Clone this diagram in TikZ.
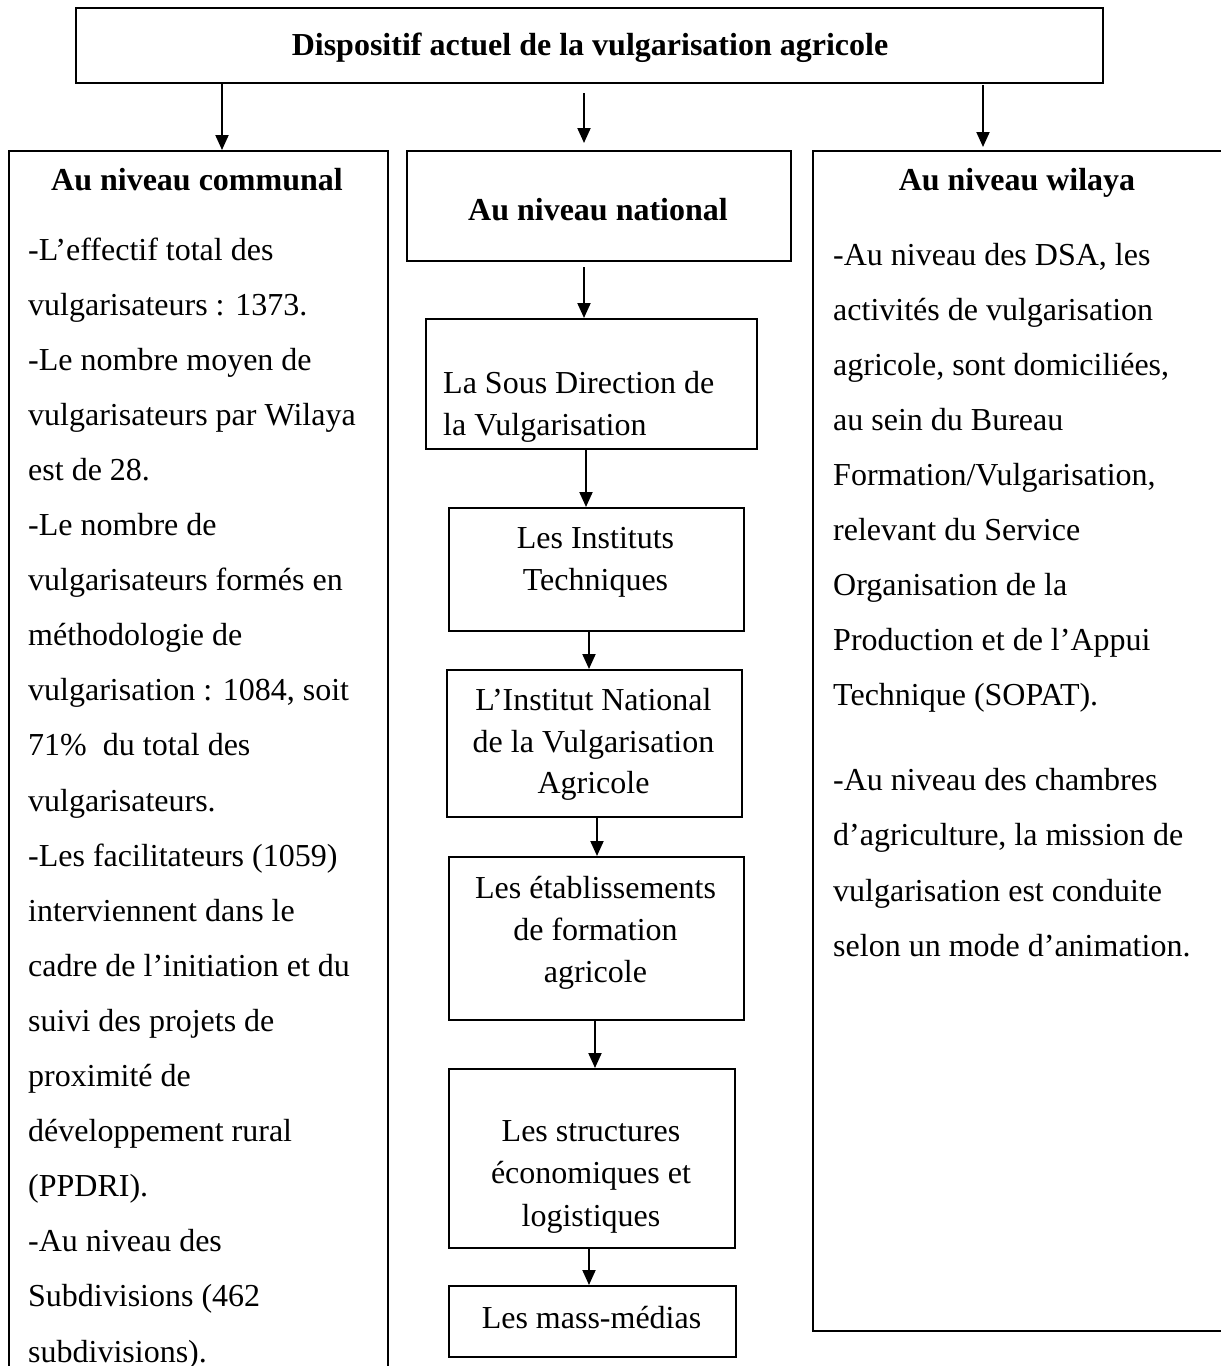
\documentclass[tikz,border=0pt]{standalone}
\usepackage{fontspec}
\setmainfont{Liberation Serif}
\usetikzlibrary{arrows.meta}
\tikzset{
  box/.style={draw, line width=2pt, rectangle, inner sep=0pt, anchor=north west},
  arr/.style={line width=2pt, -{Triangle[length=15pt,width=13pt]}},
  txt/.style={inner sep=0pt, font=\fontsize{32pt}{38pt}\selectfont},
  btxt/.style={inner sep=0pt, font=\fontsize{32pt}{38pt}\selectfont\bfseries},
}
\begin{document}
\begin{tikzpicture}[x=1pt,y=-1pt]
\useasboundingbox (0,0) rectangle (1221,1366);
\clip (0,0) rectangle (1221,1366);

% boxes
\node[box, minimum width=1027pt, minimum height=75pt] (top) at (75,7) {};
\node[box, minimum width=379pt, minimum height=1300pt] (com) at (8,150) {};
\node[box, minimum width=384pt, minimum height=110pt] (nat) at (406,150) {};
\node[box, minimum width=412pt, minimum height=1180pt] (wil) at (812,150) {};
\node[box, minimum width=331pt, minimum height=130pt] (sdv) at (425,318) {};
\node[box, minimum width=295pt, minimum height=123pt] (inst) at (448,507) {};
\node[box, minimum width=295pt, minimum height=147pt] (inva) at (446,669) {};
\node[box, minimum width=295pt, minimum height=163pt] (etab) at (448,856) {};
\node[box, minimum width=286pt, minimum height=179pt] (struc) at (448,1068) {};
\node[box, minimum width=287pt, minimum height=71pt] (mass) at (448,1285) {};

% titles
\node[btxt, anchor=base] (t0) at (590,55) {Dispositif actuel de la vulgarisation agricole};
\node[btxt, anchor=base] (t1) at (197,190) {Au niveau communal};
\node[btxt, anchor=base] (t2) at (598,220) {Au niveau national};
\node[btxt, anchor=base] (t3) at (1017,190) {Au niveau wilaya};

% left column text
\foreach \t [count=\i] in {
  {-L’effectif total des},
  {vulgarisateurs : 1373.},
  {-Le nombre moyen de},
  {vulgarisateurs par Wilaya},
  {est de 28.},
  {-Le nombre de},
  {vulgarisateurs formés en},
  {méthodologie de},
  {vulgarisation : 1084, soit},
  {71\%\ \ du total des},
  {vulgarisateurs.},
  {-Les facilitateurs (1059)},
  {interviennent dans le},
  {cadre de l’initiation et du},
  {suivi des projets de},
  {proximité de},
  {développement rural},
  {(PPDRI).},
  {-Au niveau des},
  {Subdivisions (462},
  {subdivisions).}}
  \node[txt, anchor=base west] (L\i) at (28,{260+55.1*(\i-1)}) {\t};

% right column text
\foreach \t [count=\i] in {
  {-Au niveau des DSA, les},
  {activités de vulgarisation},
  {agricole, sont domiciliées,},
  {au sein du Bureau},
  {Formation/Vulgarisation,},
  {relevant du Service},
  {Organisation de la},
  {Production et de l’Appui},
  {Technique (SOPAT).}}
  \node[txt, anchor=base west] (R\i) at (833,{265+55*(\i-1)}) {\t};
\foreach \t [count=\i] in {
  {-Au niveau des chambres},
  {d’agriculture, la mission de},
  {vulgarisation est conduite},
  {selon un mode d’animation.}}
  \node[txt, anchor=base west] (S\i) at (833,{790+55.5*(\i-1)}) {\t};

% middle column text
\node[txt, anchor=base west] (m1a) at (443,393) {La Sous Direction de};
\node[txt, anchor=base west] (m1b) at (443,435) {la Vulgarisation};
\node[txt, anchor=base] (m2a) at (595.5,548) {Les Instituts};
\node[txt, anchor=base] (m2b) at (595.5,590) {Techniques};
\node[txt, anchor=base] (m3a) at (593.5,710) {L’Institut National};
\node[txt, anchor=base] (m3b) at (593.5,752) {de la Vulgarisation};
\node[txt, anchor=base] (m3c) at (593.5,793) {Agricole};
\node[txt, anchor=base] (m4a) at (595.5,898) {Les établissements};
\node[txt, anchor=base] (m4b) at (595.5,940) {de formation};
\node[txt, anchor=base] (m4c) at (595.5,982) {agricole};
\node[txt, anchor=base] (m5a) at (591,1141) {Les structures};
\node[txt, anchor=base] (m5b) at (591,1183) {économiques et};
\node[txt, anchor=base] (m5c) at (591,1226) {logistiques};
\node[txt, anchor=base] (m6) at (591.5,1328) {Les mass-médias};

% arrow x positions
\coordinate (xa) at (222,0);
\coordinate (xb) at (584,0);
\coordinate (xc) at (983,0);
\coordinate (x1) at (584,0);
\coordinate (x2) at (586,0);
\coordinate (x3) at (589,0);
\coordinate (x4) at (597,0);
\coordinate (x5) at (595,0);
\coordinate (x6) at (589,0);

\draw[arr] (top.south -| xa) -- (com.north -| xa);
\draw[arr, shorten <=9pt, shorten >=7pt] (top.south -| xb) -- (nat.north -| xb);
\draw[arr, shorten <=1pt, shorten >=3pt] (top.south -| xc) -- (wil.north -| xc);
\draw[arr, shorten <=5pt] (nat.south -| x1) -- (sdv.north -| x1);
\draw[arr] (sdv.south -| x2) -- (inst.north -| x2);
\draw[arr] (inst.south -| x3) -- (inva.north -| x3);
\draw[arr] (inva.south -| x4) -- (etab.north -| x4);
\draw[arr] (etab.south -| x5) -- (struc.north -| x5);
\draw[arr] (struc.south -| x6) -- (mass.north -| x6);
\end{tikzpicture}
\end{document}
